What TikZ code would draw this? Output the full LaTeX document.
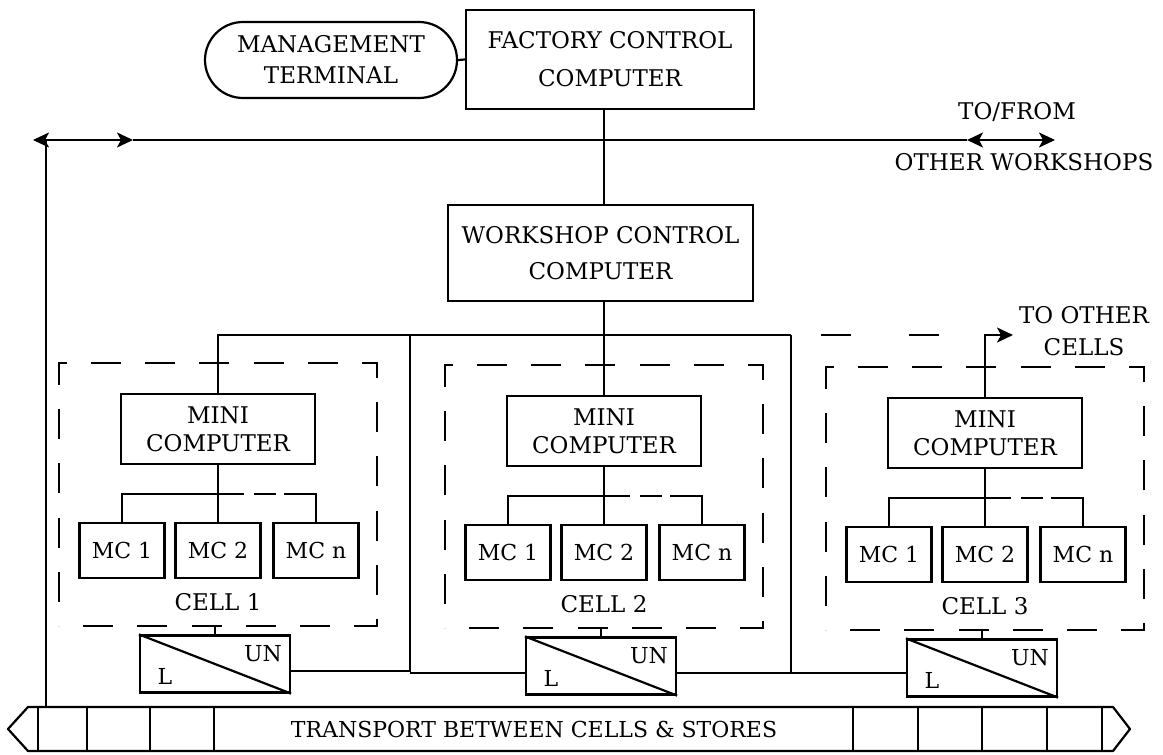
\documentclass[tikz,border=0pt]{standalone}
\usepackage{fontspec}
\setmainfont{DejaVu Serif}
\usetikzlibrary{arrows.meta,calc,decorations}

\begin{document}
\begin{tikzpicture}[x=0.5pt,y=-0.5pt,
  >={Stealth[length=8pt,width=7.5pt,inset=2pt]},
  ln/.style={line width=1.1pt},
  box/.style={draw, line width=1.1pt, align=center, inner sep=0pt},
  bigtext/.style={font=\fontsize{11.5}{#1}\selectfont},
  cellbox/.style={draw, line width=1.1pt, dash pattern=on 15pt off 12pt,
    dash expand off, minimum width=159pt, minimum height=131.5pt, inner sep=0pt},
  mcbox/.style={box, minimum width=42.5pt, minimum height=27.5pt,
    font=\fontsize{11}{13}\selectfont},
  lubox/.style={box, minimum width=75pt, minimum height=28.5pt},
  lbl/.style={inner sep=0pt, align=center, font=\fontsize{11.5}{16}\selectfont},
  small/.style={inner sep=0pt, font=\fontsize{11}{13}\selectfont}]

\fill[white] (0,0) rectangle (1163,755);
\useasboundingbox (0,0) rectangle (1163,755);

% factory level
\node[box, rounded corners=19pt, minimum width=126pt, minimum height=38pt,
  bigtext=15.5] (term) at (331,60) {MANAGEMENT\\TERMINAL};
\node[box, minimum width=144pt, minimum height=49.5pt, bigtext=19]
  (fcc) at (610,59.5) {FACTORY CONTROL\\COMPUTER};
\node[box, minimum width=152.5pt, minimum height=48pt, bigtext=18]
  (wcc) at (600.5,253) {WORKSHOP CONTROL\\COMPUTER};

\coordinate (trunk) at (604,0);
\draw[ln] (term.east) -- (fcc.west);
\draw[ln] (fcc.south -| trunk) -- (wcc.north -| trunk);

% factory bus to the other workshops
\coordinate (busL)  at (33,140);
\coordinate (busLa) at (133,140);
\coordinate (busRa) at (967,140);
\coordinate (busR)  at (1055,140);
\coordinate (busD)  at (46,140);
\draw[ln,<->] (busL) -- (busLa);
\draw[ln] (busLa) -- (busRa);
\draw[ln,<->] (busRa) -- (busR);
\node[lbl] (tofrom) at (1017,112) {TO/FROM};
\node[lbl] (otherws) at (1024,162) {OTHER WORKSHOPS};

% cells
\foreach \i/\cx/\dy in {1/218/0, 2/604/2, 3/985/4} {
  \node[cellbox] (cell\i) at (\cx,494.5+\dy) {};
  \node[box, minimum width=97pt, minimum height=35pt, bigtext=14]
    (mini\i) at (\cx,429+\dy) {MINI\\COMPUTER};
  \node[mcbox] (mca\i) at (\cx-96,550.5+\dy) {MC 1};
  \node[mcbox] (mcb\i) at (\cx,550.5+\dy) {MC 2};
  \node[mcbox] (mcn\i) at (\cx+98,550.5+\dy) {MC n};
  \node[lbl] (clab\i) at (\cx,602+\dy) {CELL \i};
  \node[lubox] (lu\i) at (\cx-3,664+\dy) {};
  \draw[ln] (lu\i.north west) -- (lu\i.south east);
  \node[small] (un\i) at ($(lu\i.center)+(48,-10)$) {UN};
  \node[small] (ld\i) at ($(lu\i.center)+(-50,12)$) {L};
  \coordinate (br\i) at (\cx,494+\dy);
  \coordinate (bs\i) at ($(br\i)+(26,0)$);
  \draw[ln] (mini\i.south) -- (br\i) -- (mcb\i.north);
  \draw[ln] (mca\i.north) |- (bs\i);
  \draw[ln, dash pattern=on 0pt off 5pt on 11pt off 4pt on 200pt]
    (bs\i) -| (mcn\i.north);
  \draw[ln] (cell\i.south -| lu\i.north) -- (lu\i.north);
}

% workshop bus
\coordinate (j1) at (410,335);
\coordinate (j2) at (791,335);
\draw[ln] (mini1.north) |- (j2);
\draw[ln] (wcc.south -| mini2.north) -- (mini2.north);
\coordinate (a1) at ($(lu1.east)+(0,7)$);
\coordinate (b2) at ($(lu2.west)+(0,7)$);
\coordinate (a2) at ($(lu2.east)+(0,7)$);
\coordinate (b3) at ($(lu3.west)+(0,5)$);
\draw[ln] (j1) |- (a1);
\draw[ln] (j1 |- b2) -- (b2);
\draw[ln] (j2) |- (a2);
\draw[ln] (j2 |- b3) -- (b3);

% link to further cells
\coordinate (tocells) at (1013,335);
\draw[ln, dash pattern=on 0pt off 15pt on 15pt off 14pt] (j2) -- (mini3.north |- j2);
\draw[ln,->] (mini3.north) |- (tocells);
\node[lbl] (toother) at (1084,331) {TO OTHER\\CELLS};

% transport system
\draw[ln, line join=round] (28,707) -- (1113,707) -- (1130,729) -- (1113,751)
  -- (28,751) -- (8,729) -- cycle;
\foreach \x in {38,87,150,214,853,918,982,1047,1102}
  \draw[ln] (\x,707) -- (\x,751);
\node[inner sep=0pt, minimum height=22pt, font=\fontsize{11}{13}\selectfont]
  (bar) at (534,729) {TRANSPORT BETWEEN CELLS \& STORES};
\draw[ln] (busD) -- (busD |- bar.north);

\end{tikzpicture}
\end{document}
